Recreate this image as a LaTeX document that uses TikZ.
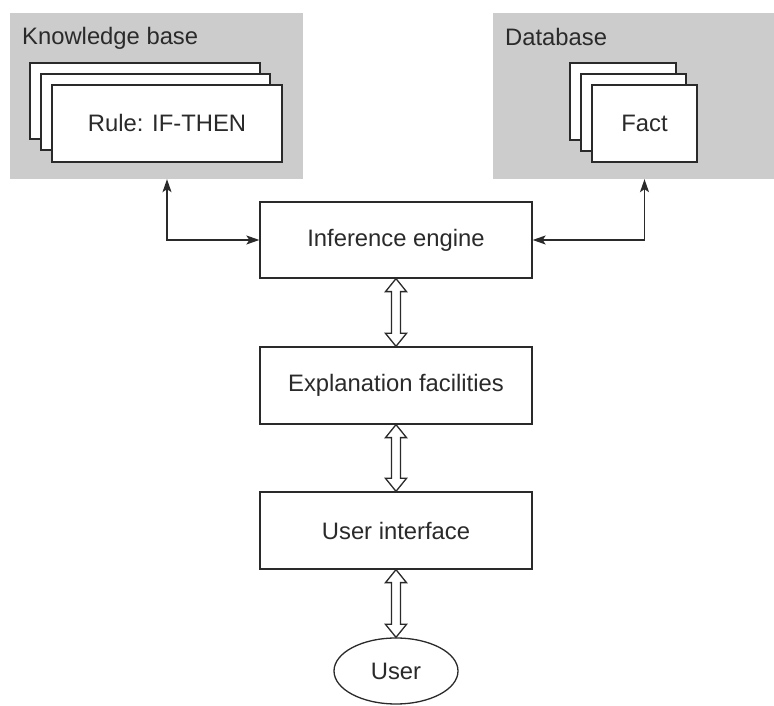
\documentclass[tikz,border=0pt]{standalone}
\usepackage{fontspec}
\setmainfont{Liberation Sans}
\usetikzlibrary{arrows.meta,calc,shapes.geometric}
\definecolor{panel}{HTML}{CCCCCC}
\definecolor{ink}{HTML}{2A2A2A}
\tikzset{
  panelbox/.style={fill=panel,draw=none,minimum width=#1,inner sep=0pt},
  card/.style={draw=ink,fill=white,line width=1.3pt,inner sep=0pt},
  stepbox/.style={draw=ink,fill=white,line width=1.3pt,minimum width=272pt,minimum height=77pt,inner sep=0pt,text=ink},
  userell/.style={draw=ink,fill=white,ellipse,line width=1.3pt,minimum width=124pt,minimum height=66pt,inner sep=0pt,text=ink},
  link/.style={draw=ink,line width=1.3pt,{Stealth[length=13pt,width=9pt,inset=3pt]}-{Stealth[length=13pt,width=9pt,inset=3pt]}},
  lbl/.style={text=ink,inner sep=0pt}
}
\newcommand{\biarrow}[2]{%
  \draw[draw=ink,line width=1.3pt,fill=white,line join=miter]
    let \p1=(#1.south), \p2=(#2.north) in
    (\x1,\y1) -- (\x1-10.5,\y1-13) -- (\x1-4.5,\y1-13) -- (\x1-4.5,\y2+13)
    -- (\x1-10.5,\y2+13) -- (\x2,\y2) -- (\x1+10.5,\y2+13) -- (\x1+4.5,\y2+13)
    -- (\x1+4.5,\y1-13) -- (\x1+10.5,\y1-13) -- cycle;}
\begin{document}
\begin{tikzpicture}[x=1pt,y=1pt,font=\fontsize{23.8}{28}\selectfont]
\useasboundingbox (0,0) rectangle (774,706);
% panels
\node[panelbox=293pt,minimum height=166pt] (kb) at (156.5,610) {};
\node[panelbox=281pt,minimum height=166pt] (db) at (633.5,610) {};
\node[lbl,anchor=base west] (kbt) at (22,661) {Knowledge base};
\node[lbl,anchor=base west] (dbt) at (505,660) {Database};
% rule cards
\node[card,minimum width=230pt,minimum height=76pt] (kb1) at (145,605) {};
\node[card,minimum width=229pt,minimum height=76pt] (kb2) at (155.5,594) {};
\node[card,minimum width=230pt,minimum height=77pt,text=ink] (kbf) at (167,582.5) {Rule: IF-THEN};
% fact cards
\node[card,minimum width=106pt,minimum height=77pt] (db1) at (623,604.5) {};
\node[card,minimum width=105pt,minimum height=77pt] (db2) at (633.5,593.5) {};
\node[card,minimum width=105pt,minimum height=77pt,text=ink] (dbf) at (644.5,582.5) {Fact};
% main chain
\node[stepbox,minimum height=76pt] (ie) at (396,466) {Inference engine};
\node[stepbox] (ef) at (396,320.5) {Explanation facilities};
\node[stepbox] (ui) at (396,175.5) {User interface};
\node[userell] (user) at (396,35) {User};
% connectors
\draw[link] (kbf.south |- kb.south) |- (ie.west);
\draw[link] (dbf.south |- db.south) |- (ie.east);
\biarrow{ie}{ef}
\biarrow{ef}{ui}
\biarrow{ui}{user}
\end{tikzpicture}
\end{document}
